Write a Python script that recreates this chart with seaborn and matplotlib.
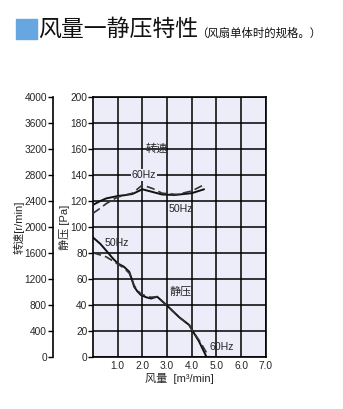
import matplotlib
matplotlib.use("Agg")
import matplotlib.pyplot as plt
import matplotlib.patches as mpatches
import seaborn as sns
import pandas as pd

sns.set_theme(style="white")
plt.rcParams["font.family"] = ["Liberation Sans Narrow", "Liberation Sans",
                               "Noto Sans CJK SC", "DejaVu Sans"]

# Static pressure curves [Pa] vs. air flow [m3/min]
flow_p50 = [0.0, 0.3, 0.54, 0.8, 1.0, 1.25, 1.47, 1.57, 1.67, 1.8, 1.94, 2.15, 2.35, 2.6,
            2.8, 3.03, 3.25, 3.5, 3.9, 4.04, 4.3, 4.6]
pres_p50 = [92, 87, 81.8, 76, 72, 69.5, 65.6, 60, 54, 50.5, 47.7, 46, 45, 46.4,
            43, 39, 35, 30.5, 24.6, 20, 11.8, 0]
flow_p60 = [0.0, 0.3, 0.54, 0.8, 1.0, 1.25, 1.47, 1.57, 1.67, 1.8, 1.94, 2.15, 2.35, 2.6,
            2.8, 3.03, 3.25, 3.5, 3.9, 4.04, 4.35, 4.7]
pres_p60 = [80.2, 78.5, 77, 74, 71.5, 68.5, 64.5, 60, 55, 51.5, 48.5, 47, 46, 46.4,
            43, 39, 35, 30.5, 24.6, 20, 11.5, 0]

# Rotation speed curves [r/min] vs. air flow [m3/min]
flow_s50 = [0.0, 0.3, 0.54, 1.0, 1.3, 1.6, 2.0, 2.4, 2.8, 3.3, 4.0, 4.5]
rpm_s50 = [2340, 2400, 2440, 2476, 2490, 2508, 2580, 2540, 2500, 2492, 2520, 2580]
flow_s60 = [0.0, 0.3, 0.54, 1.0, 1.3, 1.6, 2.0, 2.4, 2.8, 3.4, 4.0, 4.55]
rpm_s60 = [2210, 2290, 2360, 2460, 2490, 2520, 2646, 2594, 2520, 2500, 2554, 2660]

x_ticks = [1.0, 2.0, 3.0, 4.0, 5.0, 6.0, 7.0]
pa_ticks = list(range(0, 201, 20))
rpm_ticks = list(range(0, 4001, 400))

TICK_FS = 7.3
LABEL_FS = 8.0
NOTE_FS = 7.6

fig = plt.figure(figsize=(3.43, 4.09), dpi=100)
ax = fig.add_axes([0.271, 0.127, 0.504, 0.636])
ax.set_facecolor("#ECEDF9")

df_p50 = pd.DataFrame({"flow": flow_p50, "pa": pres_p50})
df_p60 = pd.DataFrame({"flow": flow_p60, "pa": pres_p60})
sns.lineplot(data=df_p50, x="flow", y="pa", ax=ax, color="#111111", lw=1.4)
sns.lineplot(data=df_p60, x="flow", y="pa", ax=ax, color="#333333", lw=1.2,
             linestyle=(0, (5, 2.5)))

ax.set_xlim(0, 7)
ax.set_ylim(0, 200)
ax.set_xticks(x_ticks)
ax.set_xticklabels([f"{v:.1f}" for v in x_ticks], fontsize=TICK_FS)
ax.set_yticks(pa_ticks)
ax.set_yticklabels([str(v) for v in pa_ticks], fontsize=TICK_FS)
ax.grid(True, color="black", lw=1.1)
ax.set_axisbelow(True)
for s in ax.spines.values():
    s.set_color("black")
    s.set_linewidth(1.2)
ax.tick_params(axis="y", left=True, length=3.5, width=1, color="black", pad=0.5)
ax.tick_params(axis="x", bottom=False, length=0, pad=3)
ax.set_xlabel("风量  [m³/min]", fontsize=LABEL_FS, labelpad=1)
ax.set_ylabel("静压 [Pa]", fontsize=LABEL_FS)
ax.yaxis.set_label_coords(-0.133, 0.5)

# Speed axis on the far left
ax2 = ax.twinx()
df_s50 = pd.DataFrame({"flow": flow_s50, "rpm": rpm_s50})
df_s60 = pd.DataFrame({"flow": flow_s60, "rpm": rpm_s60})
sns.lineplot(data=df_s50, x="flow", y="rpm", ax=ax2, color="#111111", lw=1.4)
sns.lineplot(data=df_s60, x="flow", y="rpm", ax=ax2, color="#333333", lw=1.2,
             linestyle=(0, (5, 2.5)))
ax2.set_ylim(0, 4000)
ax2.set_xlim(0, 7)
ax2.spines["left"].set_position(("axes", -0.234))
ax2.spines["left"].set_visible(True)
ax2.spines["left"].set_linewidth(1.2)
ax2.spines["left"].set_color("black")
for k in ("right", "top", "bottom"):
    ax2.spines[k].set_visible(False)
ax2.yaxis.set_ticks_position("left")
ax2.yaxis.set_label_position("left")
ax2.set_yticks(rpm_ticks)
ax2.set_yticklabels([str(v) for v in rpm_ticks], fontsize=TICK_FS)
ax2.tick_params(axis="y", left=True, right=False, length=3.5, width=1, color="black", pad=0.5)
ax2.set_ylabel("转速[r/min]", fontsize=LABEL_FS)
ax2.yaxis.set_label_coords(-0.393, 0.5)
ax2.grid(False)

# Curve annotations
ax.text(2.15, 160, "转速", fontsize=LABEL_FS, ha="left", va="center")
ax.text(1.57, 140, "60Hz", fontsize=NOTE_FS, ha="left", va="center",
        bbox=dict(facecolor="#ECEDF9", edgecolor="none", pad=0.5))
ax.text(3.08, 113.5, "50Hz", fontsize=NOTE_FS, ha="left", va="center")
ax.text(0.49, 88, "50Hz", fontsize=NOTE_FS, ha="left", va="center")
ax.text(3.12, 50, "静压", fontsize=LABEL_FS, ha="left", va="center")
ax.text(4.73, 8, "60Hz", fontsize=NOTE_FS, ha="left", va="center")

# Header
fig.patches.append(mpatches.Rectangle((16 / 343, 1 - 39 / 409), 21 / 343, 20 / 409,
                                      transform=fig.transFigure, color="#68A6E2"))
fig.text(38 / 343, 1 - 29 / 409, "风量一静压特性", fontsize=16.5, va="center",
         color="#111111")
fig.text(196 / 343, 1 - 33 / 409, "（风扇单体时的规格。）", fontsize=8.2, va="center",
         color="#111111")

fig.savefig("out.png", dpi=100)
